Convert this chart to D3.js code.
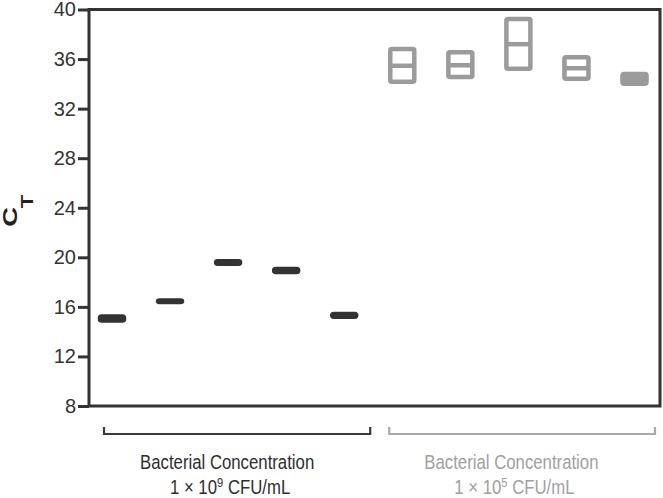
<!DOCTYPE html>
<html>
<head>
<meta charset="utf-8">
<script src="https://cdn.jsdelivr.net/npm/d3@7"></script>
<style>
  html, body { margin: 0; padding: 0; background: #fff; }
  svg { display: block; }
  text { font-family: "Liberation Sans", Arial, Helvetica, sans-serif; }
</style>
</head>
<body>
<svg id="chart" width="663" height="498"></svg>
<script>
// ---- data ----
const samples = ["A1","A2","A3","A4","A5","B1","B2","B3","B4","B5"];
const groupOf = ["hi","hi","hi","hi","hi","lo","lo","lo","lo","lo"];
const ctMin = [14.90, 16.39, 19.48, 18.81, 15.20, 34.17, 34.55, 35.22, 34.41, 34.01];
const ctMax = [15.22, 16.51, 19.68, 19.06, 15.43, 36.82, 36.55, 39.24, 36.15, 34.80];
const ctMid = [15.06, 16.45, 19.58, 18.94, 15.32, 35.46, 35.50, 37.20, 35.26, 34.40];
const yTicks = [8, 12, 16, 20, 24, 28, 32, 36, 40];
const groups = ["hi", "lo"];
const groupLine1 = ["Bacterial Concentration", "Bacterial Concentration"];
const groupBase = ["1 × 10", "1 × 10"];
const groupExp = ["9", "5"];
const groupUnit = [" CFU/mL", " CFU/mL"];

// ---- styling / layout ----
const colors = { hi: "#333333", lo: "#9b9b9b" };
const textColors = { hi: "#2e2e2e", lo: "#a0a0a0" };
const bracketColors = { hi: "#3a3a3a", lo: "#a8a8a8" };
const pLeft = 89, pRight = 660, pTop = 9.5, pBottom = 406;

const svg = d3.select("#chart");
const x = d3.scalePoint().domain(samples).range([112, 634.5]);
const y = d3.scaleLinear().domain([8, 40]).range([pBottom, pTop]);

// frame
svg.append("rect")
  .attr("x", pLeft).attr("y", pTop)
  .attr("width", pRight - pLeft).attr("height", pBottom - pTop)
  .attr("fill", "none").attr("stroke", "#333").attr("stroke-width", 3);

// y axis
const yAxis = d3.axisLeft(y).tickValues(yTicks).tickSize(11).tickPadding(2).tickFormat(d3.format("d"));
const ga = svg.append("g").attr("transform", `translate(${pLeft},0)`).call(yAxis);
ga.select(".domain").remove();
ga.selectAll(".tick line").attr("stroke", "#333").attr("stroke-width", 3);
ga.selectAll(".tick text").attr("fill", "#333").style("font-size", "20px")
  .style("font-family", "'Liberation Sans', Arial, sans-serif").attr("x", -13);

// y title C_T
svg.append("text").attr("transform", "translate(16.5,217) rotate(-90) scale(1.3,1)")
  .attr("text-anchor", "middle").attr("font-weight", "bold").attr("font-size", 21)
  .attr("fill", "#222").text("C");
svg.append("text").attr("transform", "translate(32.5,201.5) rotate(-90) scale(1.3,1)")
  .attr("text-anchor", "middle").attr("font-weight", "bold").attr("font-size", 17)
  .attr("fill", "#222").text("T");

// floating bars (min–max with centre line)
const sw = 4.5, bw = 24;
const data = samples.map((s, i) => ({ s, g: groupOf[i], lo: ctMin[i], hi: ctMax[i], mid: ctMid[i] }));
const marks = svg.append("g");
marks.selectAll("rect.bar").data(data).join("rect")
  .attr("class", "bar")
  .attr("x", d => x(d.s) - bw / 2)
  .attr("y", d => y(d.hi))
  .attr("width", bw)
  .attr("height", d => y(d.lo) - y(d.hi))
  .attr("rx", 1.5)
  .attr("fill", d => ((y(d.lo) - y(d.hi)) - 2 * sw < 3 ? colors[d.g] : "#fff"))
  .attr("stroke", d => colors[d.g])
  .attr("stroke-width", sw)
  .attr("stroke-linejoin", "round");
marks.selectAll("line.mid").data(data).join("line")
  .attr("class", "mid")
  .attr("x1", d => x(d.s) - bw / 2).attr("x2", d => x(d.s) + bw / 2)
  .attr("y1", d => y(d.mid)).attr("y2", d => y(d.mid))
  .attr("stroke", d => colors[d.g]).attr("stroke-width", sw);

// group brackets and labels
const bracketPad = { hi: [-8, 26], lo: [-13, 20.5] };
const labelShift = { hi: -1, lo: -7 };
groups.forEach((g, gi) => {
  const members = samples.filter((s, i) => groupOf[i] === g);
  const x0 = x(members[0]) + bracketPad[g][0];
  const x1 = x(members[members.length - 1]) + bracketPad[g][1];
  svg.append("path")
    .attr("d", `M${x0},427 V434 H${x1} V427`)
    .attr("fill", "none").attr("stroke", bracketColors[g]).attr("stroke-width", 2.2);
  const cx = (x(members[0]) + x(members[members.length - 1])) / 2 + labelShift[g];
  svg.append("text")
    .attr("transform", `translate(${cx},469) scale(0.86,1)`)
    .attr("text-anchor", "middle").attr("font-size", 19.5).attr("fill", textColors[g])
    .text(groupLine1[gi]);
  const t2 = svg.append("text")
    .attr("transform", `translate(${cx + 3},494) scale(0.86,1)`)
    .attr("text-anchor", "middle").attr("font-size", 19.5).attr("fill", textColors[g]);
  t2.append("tspan").text(groupBase[gi]);
  t2.append("tspan").attr("font-size", 13).attr("dy", -7).text(groupExp[gi]);
  t2.append("tspan").attr("dy", 7).text(groupUnit[gi]);
});
</script>
</body>
</html>
